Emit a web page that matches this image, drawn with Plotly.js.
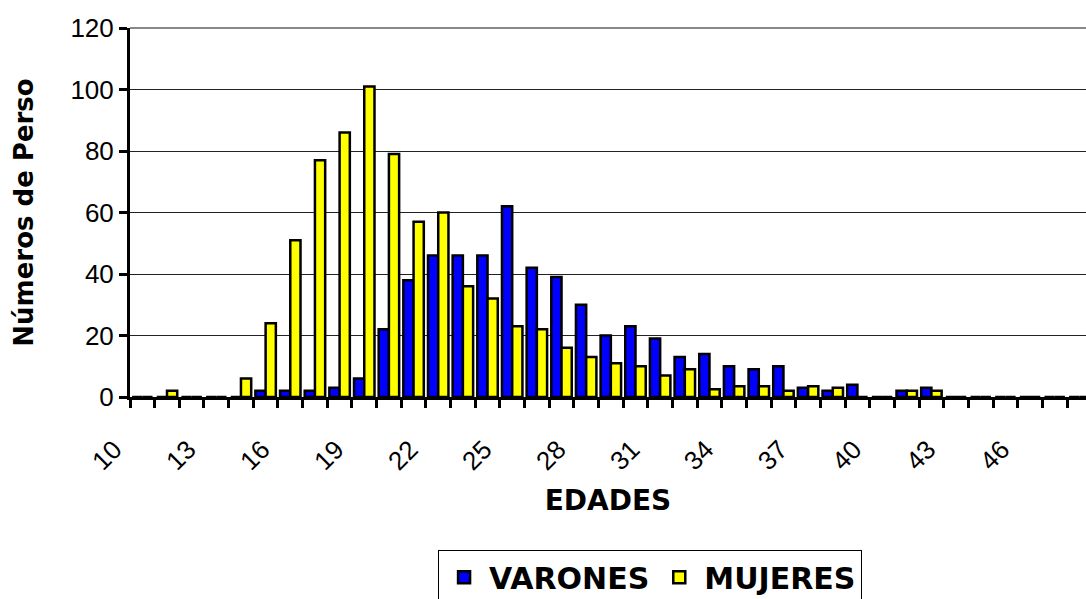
<!DOCTYPE html>
<html>
<head>
<meta charset="utf-8">
<script src="https://cdn.plot.ly/plotly-3.0.1.min.js"></script>
<style>
  html, body { margin: 0; padding: 0; background: #fff; overflow: hidden; }
  #chart { width: 1086px; height: 599px; }
</style>
</head>
<body>
<div id="chart"></div>
<script>
// Ages (categories) shown on the x axis
const ages = [10,11,12,13,14,15,16,17,18,19,20,21,22,23,24,25,26,27,28,29,
              30,31,32,33,34,35,36,37,38,39,40,41,42,43,44,45,46,47,48];
// Number of men per age
const varones = [0,0,0,0,0,2,2,2,3,6,22,38,46,46,46,62,42,39,30,20,
                 23,19,13,14,10,9,10,3,2,4,0,2,3,0,0,0,0,0,0];
// Number of women per age
const mujeres = [0,2,0,0,6,24,51,77,86,101,79,57,60,36,32,23,22,16,13,11,
                 10,7,9,2.5,3.5,3.5,2,3.5,3,0,0,2,2,0,0,0,0,0,0];
// Labelled ages on the x axis
const tickAges = [10,13,16,19,22,25,28,31,34,37,40,43,46];
const yTicks = [0,20,40,60,80,100,120];

const tickFont = {family: 'Liberation Sans, Arial, sans-serif', size: 26, color: '#000'};
const boldFont = {family: 'DejaVu Sans, sans-serif', size: 28, color: '#000', weight: 'bold'};
const legendFont = {family: 'DejaVu Sans, sans-serif', size: 30, color: '#000', weight: 'bold'};

const traces = [
  {type: 'bar', name: 'VARONES', x: ages, y: varones,
   marker: {color: '#0000FF', line: {color: '#000', width: 2.5}}},
  {type: 'bar', name: 'MUJERES', x: ages, y: mujeres,
   marker: {color: '#FFFF00', line: {color: '#000', width: 2.5}}}
];

const layout = {
  width: 1086, height: 599,
  margin: {l: 130, r: 0, t: 28, b: 202, autoexpand: false},
  paper_bgcolor: '#fff', plot_bgcolor: '#fff',
  barmode: 'group', bargap: 0.17, bargroupgap: 0,
  showlegend: true,
  legend: {orientation: 'h', x: 0.544, xanchor: 'center', y: -0.415, yanchor: 'top',
           bordercolor: '#000', borderwidth: 1, font: legendFont, traceorder: 'normal',
           bgcolor: '#fff', itemwidth: 40},
  xaxis: {
    type: 'linear', range: [9.5, 48.27],
    tickmode: 'array', tickvals: tickAges, ticktext: tickAges.map(String),
    tickangle: -45, ticks: '', tickfont: tickFont, ticklabelshift: -28,
    ticklabelstandoff: 24, automargin: false,
    minor: {ticks: 'outside', tick0: 9.5, dtick: 1, ticklen: 8, tickwidth: 3,
            tickcolor: '#000', showgrid: false},
    showline: true, linecolor: '#000', linewidth: 3,
    showgrid: false, zeroline: false, fixedrange: true,
    title: {text: 'EDADES', font: boldFont, standoff: 16}
  },
  yaxis: {
    range: [0, 120], tickmode: 'array', tickvals: yTicks, automargin: false,
    ticks: 'outside', ticklen: 8, tickwidth: 3, tickcolor: '#000',
    tickfont: tickFont,
    showline: true, linecolor: '#000', linewidth: 3,
    showgrid: true, gridcolor: '#222', gridwidth: 1, zeroline: false,
    title: {text: 'Números de Perso', font: {family: 'DejaVu Sans, sans-serif', size: 26, color: '#000', weight: 'bold'}, standoff: 30}
  },
  shapes: [
    {type: 'line', xref: 'paper', yref: 'paper', x0: 0, x1: 1, y0: 1, y1: 1,
     line: {color: '#888', width: 2}}
  ]
};

Plotly.newPlot('chart', traces, layout, {staticPlot: true, displayModeBar: false});
</script>
</body>
</html>
